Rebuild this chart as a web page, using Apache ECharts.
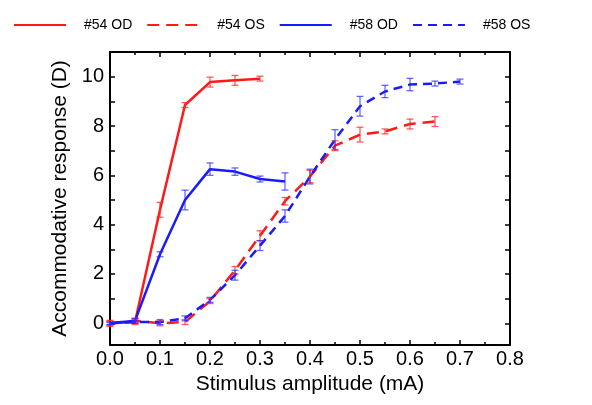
<!DOCTYPE html>
<html>
<head>
<meta charset="utf-8">
<script src="https://cdn.jsdelivr.net/npm/echarts@6/dist/echarts.min.js"></script>
<style>
html,body{margin:0;padding:0;background:#fff;}
#chart{width:592px;height:405px;}
</style>
</head>
<body>
<div id="chart"></div>
<script>
// Stimulus amplitudes (mA)
const xOD54 = [0, 0.05, 0.1, 0.15, 0.2, 0.25, 0.3];
const yOD54 = [0.0, 0.05, 4.6, 8.85, 9.78, 9.85, 9.92];
const eOD54 = [0.1, 0.1, 0.3, 0.1, 0.2, 0.2, 0.1];

const xOS54 = [0, 0.05, 0.1, 0.15, 0.2, 0.25, 0.3, 0.35, 0.4, 0.45, 0.5, 0.55, 0.6, 0.65];
const yOS54 = [0.0, 0.1, 0.0, 0.05, 0.9, 2.15, 3.55, 4.95, 5.95, 7.2, 7.65, 7.78, 8.08, 8.18];
const eOS54 = [0.12, 0.1, 0.1, 0.1, 0.1, 0.15, 0.2, 0.15, 0.25, 0.2, 0.3, 0.1, 0.2, 0.2];

const xOD58 = [0, 0.05, 0.1, 0.15, 0.2, 0.25, 0.3, 0.35];
const yOD58 = [0.0, 0.1, 2.8, 5.0, 6.25, 6.15, 5.85, 5.75];
const eOD58 = [0.05, 0.1, 0.1, 0.4, 0.25, 0.15, 0.12, 0.35];

const xOS58 = [0, 0.05, 0.1, 0.15, 0.2, 0.25, 0.3, 0.35, 0.4, 0.45, 0.5, 0.55, 0.6, 0.65, 0.7];
const yOS58 = [0.0, 0.05, 0.05, 0.2, 0.95, 1.95, 3.15, 4.35, 5.95, 7.45, 8.8, 9.4, 9.68, 9.72, 9.8];
const eOS58 = [0.05, 0.05, 0.1, 0.1, 0.1, 0.2, 0.2, 0.25, 0.3, 0.4, 0.4, 0.25, 0.25, 0.1, 0.1];

const names = ['#54 OD', '#54 OS', '#58 OD', '#58 OS'];

const FONT = "'Liberation Sans', Arial, Helvetica, sans-serif";

function pts(xs, ys) { return xs.map((x, i) => [x, ys[i]]); }
function errs(xs, ys, es) { return xs.map((x, i) => [x, ys[i], es[i]]); }

function errSeries(name, data, color) {
  return {
    name: name,
    type: 'custom',
    xAxisIndex: 0, yAxisIndex: 0,
    z: 3,
    silent: true,
    renderItem: function (params, api) {
      const x = api.value(0), y = api.value(1), e = api.value(2);
      const hi = api.coord([x, y + e]);
      const lo = api.coord([x, y - e]);
      const w = 3.5;
      const st = { stroke: color, lineWidth: 1.3 };
      return {
        type: 'group',
        children: [
          { type: 'line', shape: { x1: hi[0], y1: hi[1], x2: lo[0], y2: lo[1] }, style: st },
          { type: 'line', shape: { x1: hi[0] - w, y1: hi[1], x2: hi[0] + w, y2: hi[1] }, style: st },
          { type: 'line', shape: { x1: lo[0] - w, y1: lo[1], x2: lo[0] + w, y2: lo[1] }, style: st }
        ]
      };
    },
    data: data
  };
}

function lineSeries(name, data, color, type) {
  return {
    name: name,
    type: 'line',
    xAxisIndex: 0, yAxisIndex: 0,
    symbol: 'none',
    showSymbol: false,
    z: 2,
    lineStyle: { color: color, width: 2.5, type: type },
    itemStyle: { color: color },
    data: data
  };
}

const RED = '#ff1a1a', BLUE = '#1a1aff';
const RED_E = 'rgba(255,40,40,0.75)', BLUE_E = 'rgba(40,40,255,0.7)';

const axisCommon = {
  axisLine: { show: true, onZero: false, lineStyle: { color: '#000', width: 2 } },
  splitLine: { show: false },
};

const chart = echarts.init(document.getElementById('chart'), null, { renderer: 'canvas' });
chart.setOption({
  animation: false,
  backgroundColor: '#fff',
  legend: {
    data: names,
    left: 8,
    top: 13,
    itemWidth: 52,
    itemHeight: 14,
    itemGap: 14,
    itemStyle: { opacity: 0, borderWidth: 0 },
    textStyle: { fontFamily: FONT, fontSize: 14, color: '#000', padding: [0, 0, 0, 13] }
  },
  grid: { left: 110, right: 82, top: 52, bottom: 60 },
  xAxis: [
    Object.assign({}, axisCommon, {
      type: 'value', position: 'bottom', min: 0, max: 0.8, interval: 0.1,
      axisTick: { show: true, inside: true, length: 5, lineStyle: { color: '#000', width: 1.5 } },
      minorTick: { show: true, splitNumber: 2, length: 3, lineStyle: { color: '#000', width: 1.5 } },
      axisLabel: { fontFamily: FONT, fontSize: 20, color: '#000', margin: 4, formatter: v => v.toFixed(1) },
      name: 'Stimulus amplitude (mA)', nameLocation: 'middle', nameGap: 27,
      nameTextStyle: { fontFamily: FONT, fontSize: 21, color: '#000' }
    }),
    Object.assign({}, axisCommon, {
      type: 'value', position: 'top', min: 0, max: 0.8, interval: 0.1,
      axisTick: { show: true, inside: true, length: 5, lineStyle: { color: '#000', width: 1.5 } },
      minorTick: { show: true, splitNumber: 2, length: 3, lineStyle: { color: '#000', width: 1.5 } },
      axisLabel: { show: false }
    })
  ],
  yAxis: [
    Object.assign({}, axisCommon, {
      type: 'value', position: 'left', min: -0.88, max: 11, splitNumber: 12,
      axisTick: { show: true, inside: true, length: 5, lineStyle: { color: '#000', width: 1.5 } },
      axisLabel: {
        fontFamily: FONT, fontSize: 20, color: '#000', margin: 6,
        formatter: function (v) {
          const r = Math.round(v);
          if (Math.abs(v - r) > 1e-6 || r < 0 || r > 10 || r % 2 !== 0) return '';
          return String(r);
        }
      },
      name: 'Accommodative response (D)', nameLocation: 'middle', nameGap: 39,
      nameTextStyle: { fontFamily: FONT, fontSize: 21, color: '#000' }
    }),
    Object.assign({}, axisCommon, {
      type: 'value', position: 'right', min: -0.88, max: 11, splitNumber: 12,
      axisTick: { show: true, inside: true, length: 5, lineStyle: { color: '#000', width: 1.5 } },
      axisLabel: { show: false }
    })
  ],
  series: [
    lineSeries(names[0], pts(xOD54, yOD54), RED, 'solid'),
    lineSeries(names[1], pts(xOS54, yOS54), RED, [12, 7]),
    lineSeries(names[2], pts(xOD58, yOD58), BLUE, 'solid'),
    lineSeries(names[3], pts(xOS58, yOS58), BLUE, [9, 6]),
    errSeries(names[0], errs(xOD54, yOD54, eOD54), RED_E),
    errSeries(names[1], errs(xOS54, yOS54, eOS54), RED_E),
    errSeries(names[2], errs(xOD58, yOD58, eOD58), BLUE_E),
    errSeries(names[3], errs(xOS58, yOS58, eOS58), BLUE_E)
  ]
});
</script>
</body>
</html>
